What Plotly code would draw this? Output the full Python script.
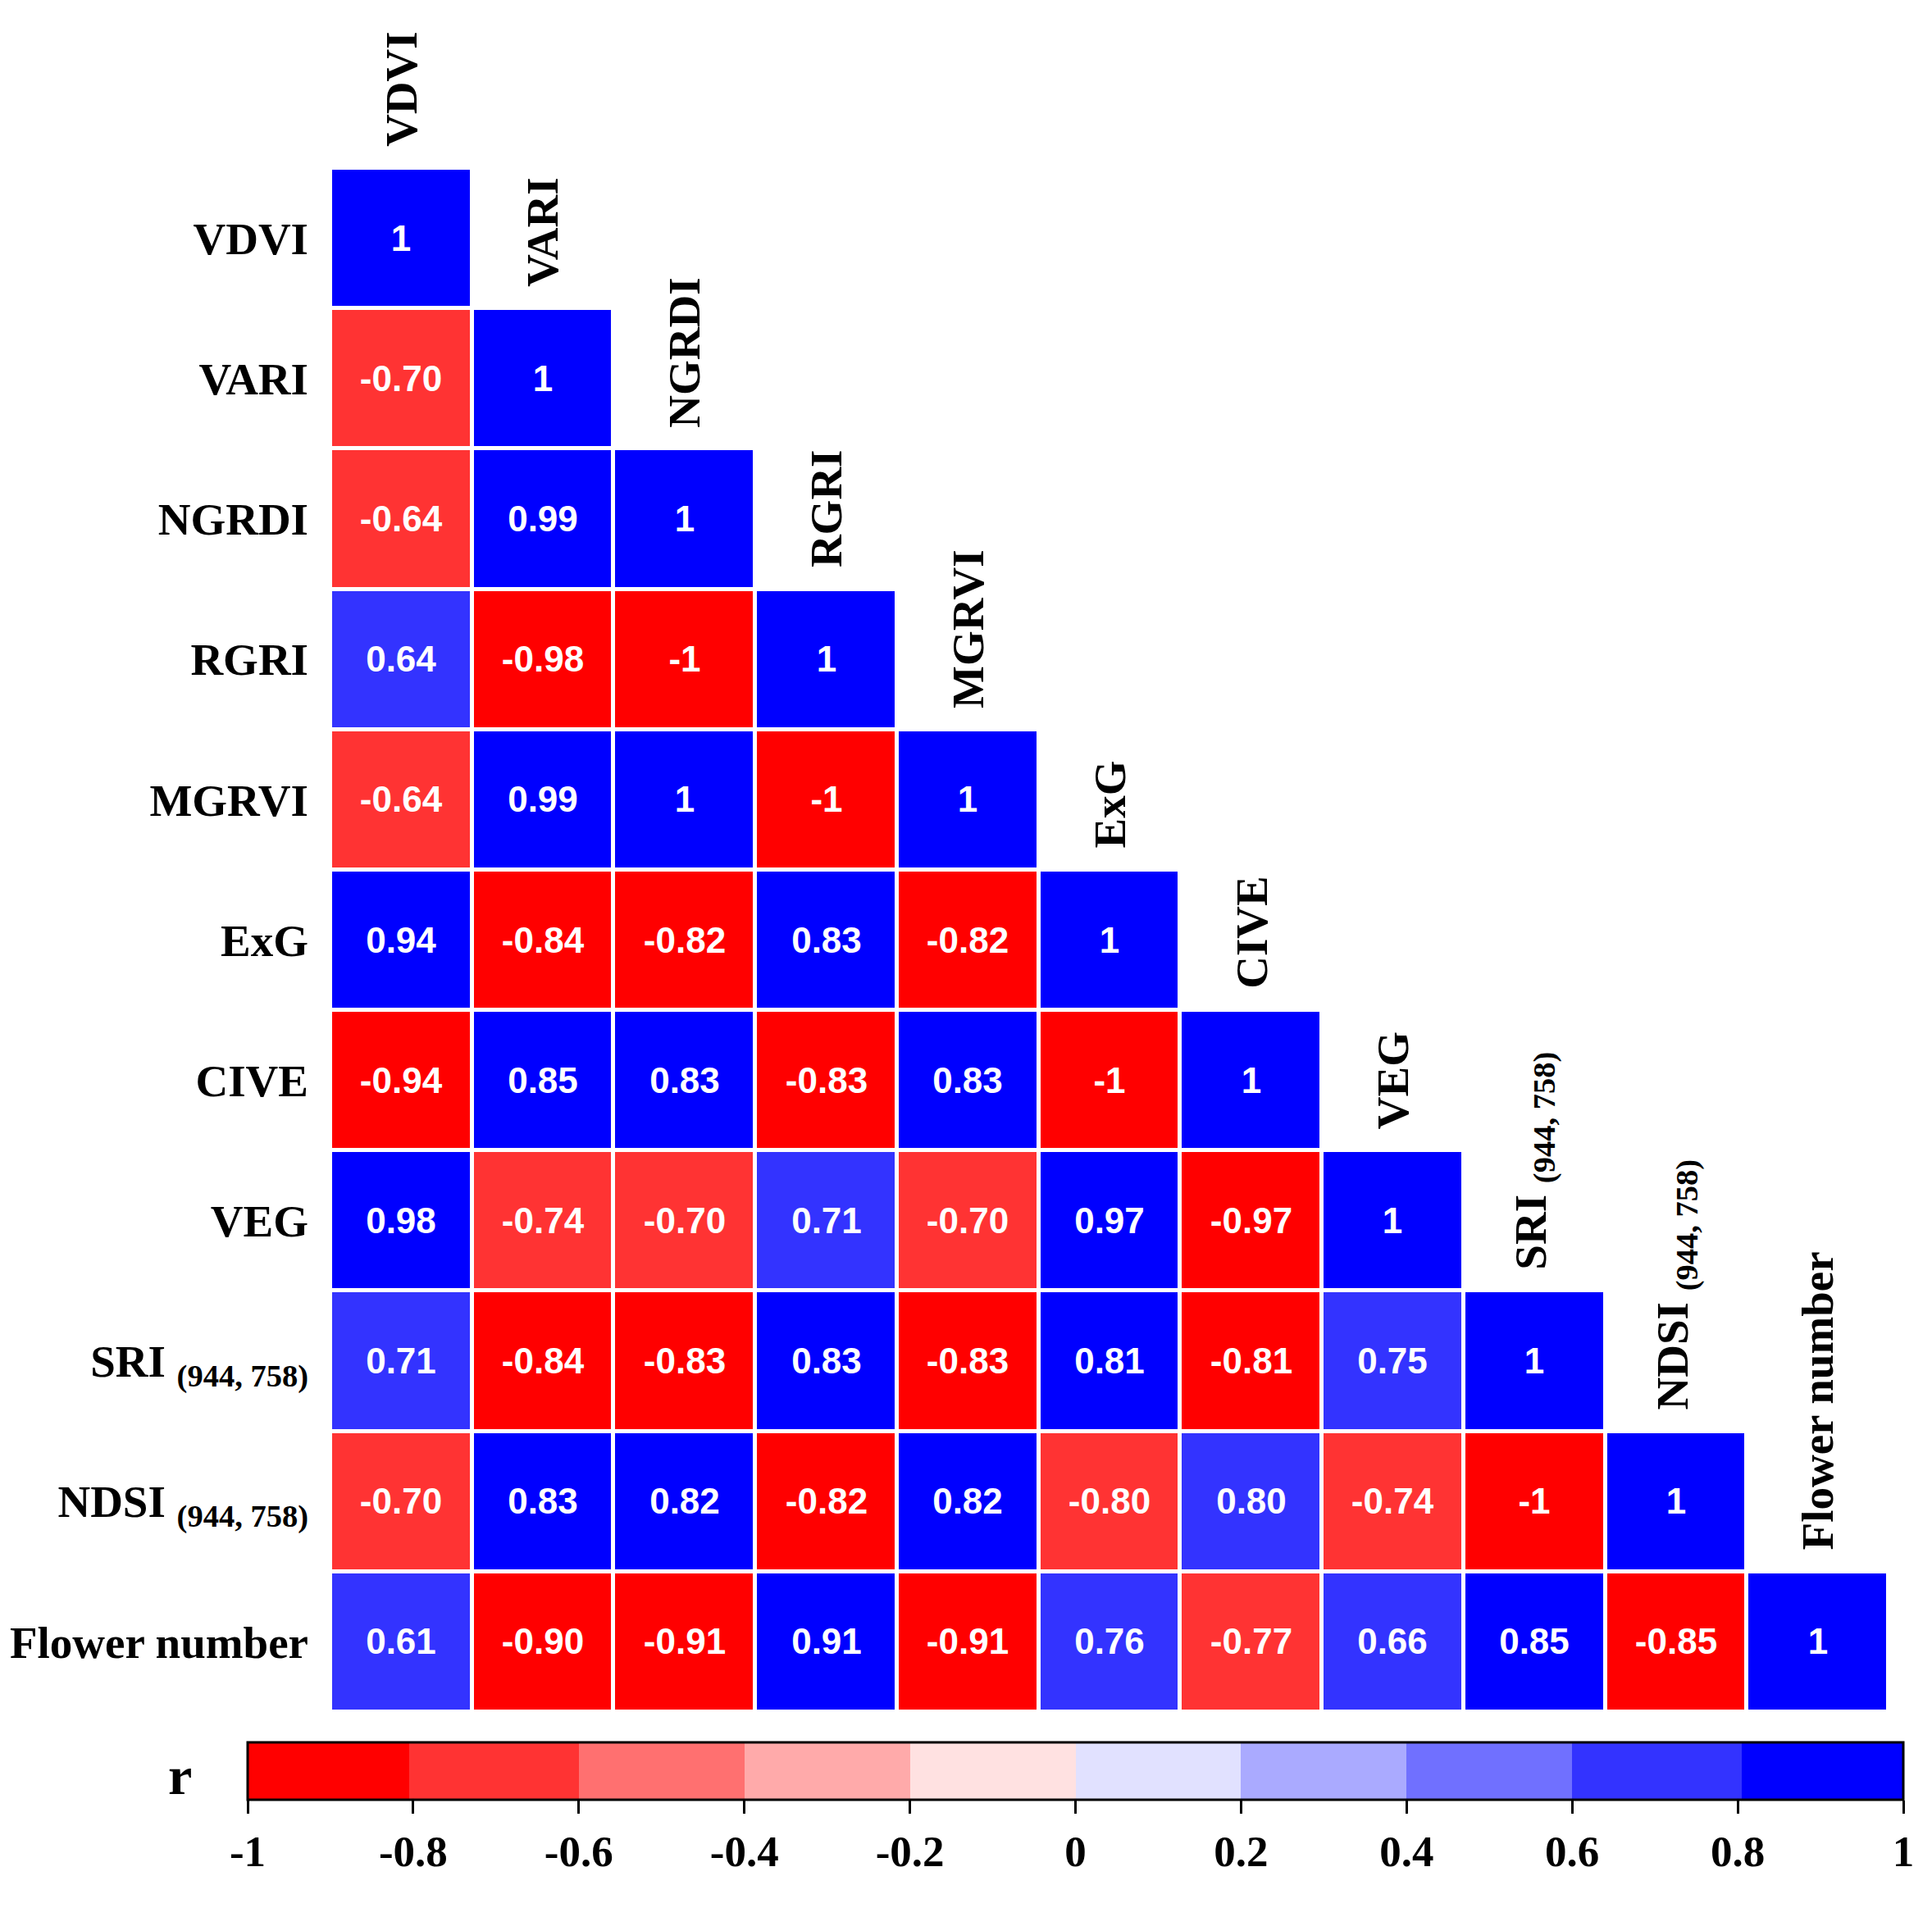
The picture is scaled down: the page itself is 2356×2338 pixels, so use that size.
import plotly.graph_objects as go

labels = ["VDVI", "VARI", "NGRDI", "RGRI", "MGRVI", "ExG", "CIVE", "VEG",
          "SRI <sub>(944, 758)</sub>", "NDSI <sub>(944, 758)</sub>", "Flower number"]

row_VDVI = [1]
row_VARI = [-0.70, 1]
row_NGRDI = [-0.64, 0.99, 1]
row_RGRI = [0.64, -0.98, -1, 1]
row_MGRVI = [-0.64, 0.99, 1, -1, 1]
row_ExG = [0.94, -0.84, -0.82, 0.83, -0.82, 1]
row_CIVE = [-0.94, 0.85, 0.83, -0.83, 0.83, -1, 1]
row_VEG = [0.98, -0.74, -0.70, 0.71, -0.70, 0.97, -0.97, 1]
row_SRI = [0.71, -0.84, -0.83, 0.83, -0.83, 0.81, -0.81, 0.75, 1]
row_NDSI = [-0.70, 0.83, 0.82, -0.82, 0.82, -0.80, 0.80, -0.74, -1, 1]
row_Flower = [0.61, -0.90, -0.91, 0.91, -0.91, 0.76, -0.77, 0.66, 0.85, -0.85, 1]

rows = [row_VDVI, row_VARI, row_NGRDI, row_RGRI, row_MGRVI, row_ExG, row_CIVE,
        row_VEG, row_SRI, row_NDSI, row_Flower]

bin_colors = ["#FF0000", "#FF3333", "#FF7070", "#FFAAAA", "#FFE1E1",
              "#E1E1FF", "#AAAAFF", "#7070FF", "#3333FF", "#0000FF"]
bar_ticks = [-1, -0.8, -0.6, -0.4, -0.2, 0, 0.2, 0.4, 0.6, 0.8, 1]
bar_ticktext = ["-1", "-0.8", "-0.6", "-0.4", "-0.2", "0", "0.2", "0.4", "0.6", "0.8", "1"]

n = len(labels)
z = []
text = []
for i in range(n):
    zr, tr = [], []
    for j in range(n):
        if j < len(rows[i]):
            v = rows[i][j]
            zr.append(v)
            tr.append(str(int(v)) if abs(v) == 1 else f"{v:.2f}")
        else:
            zr.append(None)
            tr.append("")
    z.append(zr)
    text.append(tr)

# discrete colorscale (edges at +-0.8 nudged so values printed as 0.80 fall in the lighter bin)
edges = [0.0, 0.0975, 0.2, 0.3, 0.4, 0.5, 0.6, 0.7, 0.8, 0.9025, 1.0]
colorscale = []
for k, c in enumerate(bin_colors):
    colorscale.append([edges[k], c])
    colorscale.append([edges[k + 1], c])

serif = "Liberation Serif"

W, H = 2356, 2338
ML, MR, MT, MB = 20, 20, 190, 20
pw = W - ML - MR
ph = H - MT - MB
OFF = 8  # page offset of the plot inside the browser window


def px_x(px):
    return (px - OFF - ML) / pw


def px_y(py):
    return (H - MB - (py - OFF)) / ph


# pixel layout (as seen in the window)
mat_left, mat_right, mat_top, mat_bottom = 403, 2303, 205, 2088
cb_left, cb_right = 302, 2321
cb_top = 2125

fig = go.Figure(go.Heatmap(
    z=z, x=labels, y=labels, text=text, texttemplate="%{text}",
    textfont=dict(family="Liberation Sans", size=44, color="white", weight="bold"),
    colorscale=colorscale, zmin=-1, zmax=1, xgap=5, ygap=5,
    hoverongaps=False,
    colorbar=dict(
        orientation="h", lenmode="pixels", len=cb_right - cb_left,
        thickness=70, thicknessmode="pixels",
        x=px_x((cb_left + cb_right) / 2), xanchor="center",
        y=px_y(cb_top), yanchor="top",
        xpad=0, ypad=0,
        outlinecolor="black", outlinewidth=3,
        tickvals=bar_ticks, ticktext=bar_ticktext,
        ticks="outside", ticklen=16, tickwidth=3, tickcolor="black",
        tickfont=dict(family=serif, size=53, color="black", weight="bold"),
    ),
))

for i, lab in enumerate(labels):
    fig.add_annotation(
        x=i, y=i - 0.5, xref="x", yref="y", text=lab, showarrow=False,
        textangle=-90, xanchor="center", yanchor="bottom", yshift=24,
        font=dict(family=serif, size=55, color="black", weight="bold"),
    )

fig.add_annotation(
    x=px_x(219), y=px_y(2165), xref="paper", yref="paper", text="r",
    showarrow=False, xanchor="center", yanchor="middle",
    font=dict(family=serif, size=66, color="black", weight="bold"),
)

fig.update_layout(
    width=W, height=H, margin=dict(l=ML, r=MR, t=MT, b=MB, autoexpand=False),
    plot_bgcolor="white", paper_bgcolor="white",
    xaxis=dict(domain=[px_x(mat_left), px_x(mat_right)], automargin=False,
               showticklabels=False, showgrid=False, zeroline=False, ticks="",
               autorange=False, range=[-0.5, n - 0.5]),
    yaxis=dict(domain=[px_y(mat_bottom), px_y(mat_top)], automargin=False,
               autorange=False, range=[n - 0.5, -0.5],
               showgrid=False, zeroline=False, ticks="",
               ticklabelstandoff=26,
               tickfont=dict(family=serif, size=55, color="black", weight="bold")),
    showlegend=False,
)

fig.write_html("out.html")
